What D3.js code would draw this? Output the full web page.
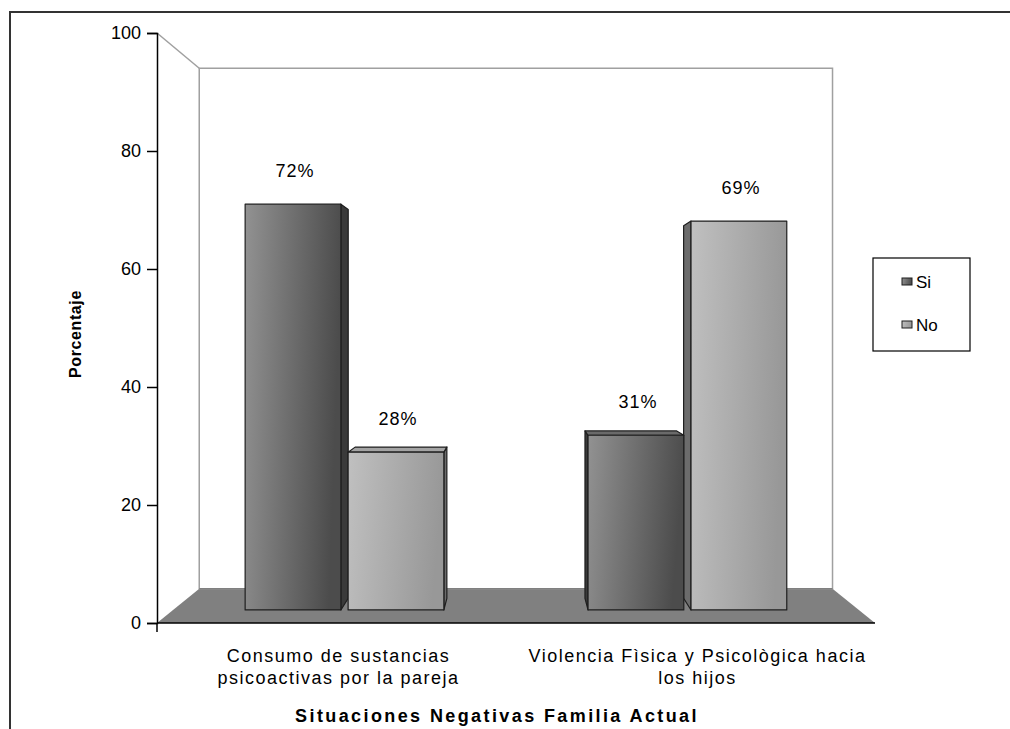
<!DOCTYPE html>
<html>
<head>
<meta charset="utf-8">
<script src="https://cdn.jsdelivr.net/npm/d3@7"></script>
<style>
  body { margin: 0; background: #fff; }
  text { font-family: "Liberation Sans", Arial, sans-serif; fill: #000; }
</style>
</head>
<body>
<div id="chart"></div>
<script>
const categories = [
  ["Consumo de sustancias", "psicoactivas por la pareja"],
  ["Violencia Fìsica y Psicològica hacia", "los hijos"],
];
const seriesNames = ["Si", "No"];
const siValues = [72, 31];
const noValues = [28, 69];
const yTicks = [0, 20, 40, 60, 80, 100];
const yTitle = "Porcentaje";
const xTitle = "Situaciones Negativas Familia Actual";

const width = 1010, height = 729;
const svg = d3.select("#chart").append("svg")
  .attr("width", width).attr("height", height);

const defs = svg.append("defs");
const grads = [
  { id: "gSi", from: "#929292", to: "#4c4c4c" },
  { id: "gNo", from: "#c0c0c0", to: "#989898" },
];
grads.forEach((g) => {
  const lg = defs.append("linearGradient").attr("id", g.id)
    .attr("x1", 0).attr("y1", 0).attr("x2", 1).attr("y2", 0.15);
  lg.append("stop").attr("offset", 0).attr("stop-color", g.from);
  lg.append("stop").attr("offset", 1).attr("stop-color", g.to);
});
const styles = {
  Si: { front: "url(#gSi)", side: "#3a3a3a", top: "#6a6a6a" },
  No: { front: "url(#gNo)", side: "#6c6c6c", top: "#a4a4a4" },
};

// outer frame (only top + left visible)
svg.append("path").attr("d", "M10,729V12H1010")
  .attr("fill", "none").attr("stroke", "#333").attr("stroke-width", 2);

// front plane scales
const x = d3.scaleBand().domain(d3.range(categories.length)).range([157, 875]);
const xs = d3.scaleBand().domain(seriesNames).range([0, x.bandwidth()])
  .paddingOuter(0.7).paddingInner(0.07);
const y = d3.scaleLinear().domain([0, 100]).range([623, 33]);

// simple perspective toward a vanishing point
const vp = { x: 515, y: 332 };
const shrink = 0.118;
function project(px, py, z) {
  const s = 1 - shrink * z;
  return [vp.x + s * (px - vp.x), vp.y + s * (py - vp.y)];
}
const poly = (pts) => "M" + pts.map((p) => project(...p).join(",")).join("L") + "Z";

// floor
svg.append("path")
  .attr("d", poly([[157, y(0), 0], [875, y(0), 0], [875, y(0), 1], [157, y(0), 1]]))
  .attr("fill", "#808080");

// back wall
svg.append("path")
  .attr("d", poly([[157, y(100), 1], [875, y(100), 1], [875, y(0), 1], [157, y(0), 1]]))
  .attr("fill", "#fff").attr("stroke", "#a0a0a0").attr("stroke-width", 1.5);
// left wall top edge
svg.append("path")
  .attr("d", "M" + project(157, y(100), 0).join(",") + "L" + project(157, y(100), 1).join(","))
  .attr("stroke", "#a0a0a0").attr("stroke-width", 1.5).attr("fill", "none");
svg.append("path")
  .attr("d", "M" + project(157, y(0), 1).join(",") + "L" + project(875, y(0), 1).join(","))
  .attr("stroke", "#808080").attr("stroke-width", 1.5);

// bars
const zf = 0.38, zb = 0.72;
const bars = [];
categories.forEach((c, i) => {
  seriesNames.forEach((s) => {
    const v = s === "Si" ? siValues[i] : noValues[i];
    const x0 = x(i) + xs(s), x1 = x0 + xs.bandwidth();
    bars.push({ s, v, x0, x1, cx: (x0 + x1) / 2 });
  });
});
bars.sort((a, b) => Math.abs(b.cx - vp.x) - Math.abs(a.cx - vp.x));

const gBars = svg.append("g").attr("stroke", "#1e1e1e").attr("stroke-width", 1.2)
  .attr("stroke-linejoin", "round");
bars.forEach((b) => {
  const st = styles[b.s];
  const yt = y(b.v), y0 = y(0);
  const sx = b.cx < vp.x ? b.x1 : b.x0;
  gBars.append("path")
    .attr("d", poly([[sx, yt, zf], [sx, yt, zb], [sx, y0, zb], [sx, y0, zf]]))
    .attr("fill", st.side);
  if (project(0, yt, zf)[1] > vp.y) {
    gBars.append("path")
      .attr("d", poly([[b.x0, yt, zf], [b.x1, yt, zf], [b.x1, yt, zb], [b.x0, yt, zb]]))
      .attr("fill", st.top);
  }
  gBars.append("path")
    .attr("d", poly([[b.x0, yt, zf], [b.x1, yt, zf], [b.x1, y0, zf], [b.x0, y0, zf]]))
    .attr("fill", st.front);
  const lp = project(b.cx, yt, zf);
  svg.append("text").attr("x", lp[0] + 2).attr("y", lp[1] - 27)
    .attr("text-anchor", "middle").style("font-size", "18px").style("letter-spacing", "1px")
    .text(b.v + "%");
});

// axes
const yAxis = d3.axisLeft(y).tickValues(yTicks).tickSize(10).tickPadding(6);
const gy = svg.append("g").attr("transform", "translate(157,0)").call(yAxis);
gy.select(".domain").attr("stroke", "#000").attr("stroke-width", 1.5);
gy.selectAll(".tick line").attr("stroke", "#000").attr("stroke-width", 1.5);
gy.selectAll(".tick text").style("font-size", "18px")
  .style("font-family", "Liberation Sans, Arial, sans-serif").attr("fill", "#000");

svg.append("line").attr("x1", 157).attr("x2", 875).attr("y1", y(0)).attr("y2", y(0))
  .attr("stroke", "#000").attr("stroke-width", 1.5);
svg.append("line").attr("x1", 157).attr("x2", 157).attr("y1", y(0)).attr("y2", y(0) + 9)
  .attr("stroke", "#000").attr("stroke-width", 1.5);

// category labels
categories.forEach((lines, i) => {
  const t = svg.append("text").attr("text-anchor", "middle")
    .style("font-size", "18px").style("letter-spacing", "1.5px");
  lines.forEach((ln, k) => {
    t.append("tspan").attr("x", x(i) + x.bandwidth() / 2 + 2).attr("y", 662 + k * 22).text(ln);
  });
});

// titles
svg.append("text").attr("transform", "translate(81,334) rotate(-90)")
  .attr("text-anchor", "middle").style("font-size", "16px").style("font-weight", "bold")
  .style("letter-spacing", "0.6px").text(yTitle);
svg.append("text").attr("x", 497).attr("y", 722).attr("text-anchor", "middle")
  .style("font-size", "18px").style("font-weight", "bold").style("letter-spacing", "2.4px")
  .text(xTitle);

// legend
const lg = svg.append("g").attr("transform", "translate(873,258)");
lg.append("rect").attr("width", 97).attr("height", 93)
  .attr("fill", "#fff").attr("stroke", "#000").attr("stroke-width", 1.2);
seriesNames.forEach((s, k) => {
  const row = lg.append("g").attr("transform", `translate(29,${20 + k * 43})`);
  row.append("rect").attr("width", 10).attr("height", 7)
    .attr("fill", styles[s].front).attr("stroke", "#1e1e1e").attr("stroke-width", 1);
  row.append("text").attr("x", 14).attr("y", 10).style("font-size", "17px").text(s);
});
</script>
</body>
</html>
